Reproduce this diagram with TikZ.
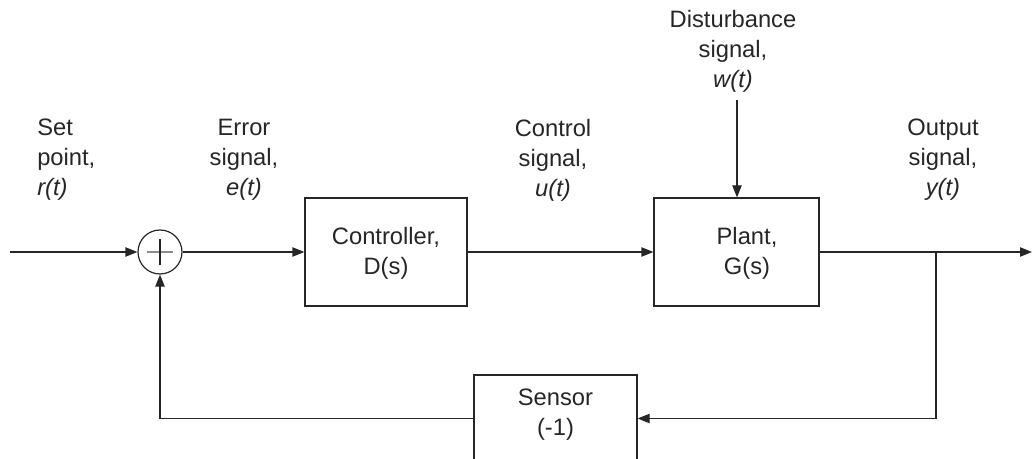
\documentclass[tikz,border=0pt]{standalone}
\usepackage{fontspec}
\setmainfont{Liberation Sans}
\usetikzlibrary{arrows.meta}
\tikzset{
  wire/.style={draw=black!85, line width=0.9pt},
  arr/.style={wire, -{Triangle[length=9pt,width=7pt]}},
  blockbox/.style={draw=black!85, line width=0.9pt, rectangle, inner sep=0pt},
  lbl/.style={font=\fontsize{17.8}{22.5}\selectfont, text=black!85, align=center, inner sep=0pt},
}
\begin{document}
\begin{tikzpicture}[x=0.75pt,y=-0.75pt]
\useasboundingbox (0,0) rectangle (1032,459);
\clip (0,0) rectangle (1032,459);
% blocks
\node[blockbox, minimum size=33pt, circle] (sum) at (160,252) {};
\draw[draw=black!45, line width=0.9pt] ([xshift=-10pt]sum.center) -- ([xshift=10pt]sum.center);
\draw[draw=black!85, line width=0.9pt] ([yshift=-10pt]sum.center) -- ([yshift=10pt]sum.center);
\node[blockbox, minimum width=121.5pt, minimum height=81pt] (ctrl) at (386,252) {};
\node[lbl] (ctrltxt) at (386,253) {Controller,\\D(s)};
\node[blockbox, minimum width=123.75pt, minimum height=81pt] (plant) at (736.5,252) {};
\node[lbl] (planttxt) at (747,253) {Plant,\\G(s)};
\node[blockbox, minimum width=122.25pt, minimum height=65.25pt] (sensor) at (555.5,418.5) {};
\node[lbl] (sensortxt) at (555.5,415) {Sensor\\(-1)};
% labels
\node[lbl, align=left, anchor=west] (setpt) at (37,160) {Set\\point,\\\textit{r(t)}};
\node[lbl] (err) at (244,160) {Error\\signal,\\\textit{e(t)}};
\node[lbl] (ctl) at (553,160) {Control\\signal,\\\textit{u(t)}};
\node[lbl] (dist) at (733,51) {Disturbance\\signal,\\\textit{w(t)}};
\node[lbl] (outp) at (943,160) {Output\\signal,\\\textit{y(t)}};
% connectors
\coordinate (in) at (10,252);
\coordinate (out) at (1032,252);
\coordinate (br) at (936,252);
\coordinate (dtop) at (737,100);
\draw[arr] (in) -- (sum.west);
\draw[arr] (sum.east) -- (ctrl.west);
\draw[arr] (ctrl.east) -- (plant.west);
\draw[arr] (plant.east) -- (out);
\draw[arr] (br) |- (sensor.east);
\draw[arr] (sensor.west) -| (sum.south);
\draw[arr] (dtop) -- (dtop |- plant.north);
\end{tikzpicture}
\end{document}
